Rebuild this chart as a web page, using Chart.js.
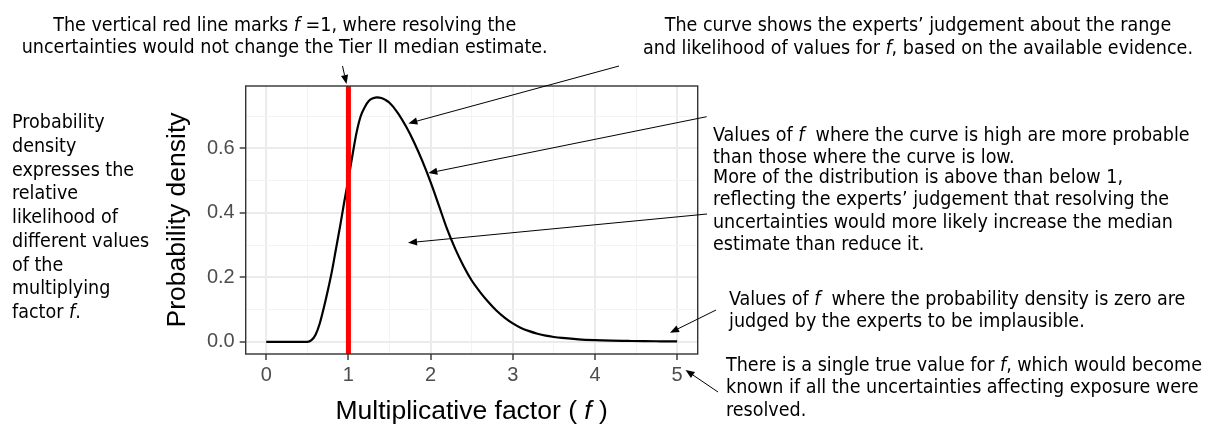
<!DOCTYPE html>
<html>
<head>
<meta charset="utf-8">
<script src="https://cdn.jsdelivr.net/npm/chart.js@4.4.1/dist/chart.umd.min.js"></script>
<style>
  html, body { margin: 0; padding: 0; background: #fff; }
  #wrap { position: relative; width: 1211px; height: 428px; overflow: hidden; }
  #wrap canvas { position: absolute; left: 0; top: 0; }
  .note {
    position: absolute;
    font-family: "DejaVu Sans Condensed", "DejaVu Sans", sans-serif;
    font-stretch: semi-condensed;
    font-size: 19.5px;
    line-height: 22.5px;
    color: #000;
    white-space: nowrap;
  }
  .mid { transform: translateX(-50%); text-align: center; }
  .xtitle {
    position: absolute;
    left: 471.7px;
    top: 395px;
    transform: translateX(-50%);
    font-family: "Liberation Sans", Arial, sans-serif;
    font-size: 26.5px;
    line-height: 30px;
    white-space: nowrap;
  }
</style>
</head>
<body>
<div id="wrap">
  <canvas id="densityChart" width="1211" height="428"></canvas>

  <div class="note mid" style="left:284.7px; top:13.5px;">The vertical red line marks <i>f</i> =1, where resolving the<br>uncertainties would not change the Tier II median estimate.</div>
  <div class="note mid" style="left:918px; top:14px;">The curve shows the experts’ judgement about the range<br>and likelihood of values for <i>f</i>, based on the available evidence.</div>
  <div class="note" style="left:713px; top:124px; line-height:22px;">Values of <i>f</i>&nbsp; where the curve is high are more probable<br>than those where the curve is low.</div>
  <div class="note" style="left:713px; top:166px; line-height:22.4px;">More of the distribution is above than below 1,<br>reflecting the experts’ judgement that resolving the<br>uncertainties would more likely increase the median<br>estimate than reduce it.</div>
  <div class="note" style="left:729px; top:288px; line-height:22px;">Values of <i>f</i>&nbsp; where the probability density is zero are<br>judged by the experts to be implausible.</div>
  <div class="note" style="left:726px; top:354px; line-height:22.4px;">There is a single true value for <i>f</i>, which would become<br>known if all the uncertainties affecting exposure were<br>resolved.</div>
  <div class="note" style="left:12px; top:110px; line-height:23.75px;">Probability<br>density<br>expresses the<br>relative<br>likelihood of<br>different values<br>of the<br>multiplying<br>factor <i>f</i>.</div>

  <div class="xtitle">Multiplicative factor ( <i>f</i> )</div>
</div>

<script>
// density curve
const fValues = [0, 0.5, 0.55, 0.6, 0.65, 0.7, 0.75, 0.8, 0.85, 0.9, 0.95, 1.0, 1.05, 1.1, 1.15, 1.2, 1.25, 1.3, 1.35, 1.4, 1.45, 1.5, 1.6, 1.7, 1.8, 1.9, 2.0, 2.1, 2.2, 2.3, 2.4, 2.5, 2.6, 2.7, 2.8, 2.9, 3.0, 3.1, 3.2, 3.3, 3.4, 3.5, 3.6, 3.8, 4.0, 4.2, 4.4, 4.6, 4.8, 5.0];
const density = [0, 0, 0.005, 0.022, 0.056, 0.105, 0.16, 0.22, 0.29, 0.36, 0.435, 0.505, 0.58, 0.65, 0.70, 0.728, 0.747, 0.755, 0.758, 0.756, 0.75, 0.741, 0.71, 0.668, 0.618, 0.56, 0.495, 0.423, 0.35, 0.288, 0.235, 0.19, 0.155, 0.124, 0.097, 0.075, 0.057, 0.043, 0.033, 0.025, 0.019, 0.015, 0.012, 0.0075, 0.005, 0.0035, 0.0027, 0.002, 0.0016, 0.0013];

// vertical reference line at f = 1
const markerF = 1;

// axes (ggplot style: major ticks labelled, minor grid in between)
const xMajor = [0, 1, 2, 3, 4, 5];
const xMinor = [0.5, 1.5, 2.5, 3.5, 4.5];
const yMajor = [0, 0.2, 0.4, 0.6];
const yMinor = [0.1, 0.3, 0.5, 0.7];
const xRange = [-0.25, 5.25];
const yRange = [-0.0378, 0.793];

// annotation arrows: tail in page pixels, head in data units (or pixels)
const arrows = [
  { tail: [342.5, 66], headPx: [346.5, 84] },
  { tail: [619, 66], head: [1.729, 0.677] },
  { tail: [706.7, 116.7], head: [1.972, 0.523] },
  { tail: [707, 214], head: [1.725, 0.307] },
  { tail: [716, 310], head: [4.913, 0.028] },
  { tail: [718, 392], headPx: [685.5, 370] }
];

const plotLeft = 245.7, plotRight = 697.7, plotTop = 86, plotBottom = 354;
const W = 1211, H = 428;
const padLeft = 160;

const isMajor = (list, v) => list.some(m => Math.abs(m - v) < 1e-6);

const panelBorder = {
  id: 'panelBorder',
  afterDatasetsDraw(chart) {
    const a = chart.chartArea;
    const c = chart.ctx;
    c.save();
    c.strokeStyle = '#333333';
    c.lineWidth = 1.4;
    c.strokeRect(a.left, a.top, a.right - a.left, a.bottom - a.top);
    c.restore();
  }
};

const arrowNotes = {
  id: 'arrowNotes',
  afterDraw(chart) {
    const c = chart.ctx;
    const xs = chart.scales.x, ys = chart.scales.y;
    c.save();
    c.strokeStyle = '#000';
    c.fillStyle = '#000';
    c.lineWidth = 1;
    arrows.forEach(ar => {
      const hx = ar.head ? xs.getPixelForValue(ar.head[0]) : ar.headPx[0];
      const hy = ar.head ? ys.getPixelForValue(ar.head[1]) : ar.headPx[1];
      const tx = ar.tail[0], ty = ar.tail[1];
      const ang = Math.atan2(hy - ty, hx - tx);
      const len = 9, half = 3.6;
      const bx = hx - len * Math.cos(ang), by = hy - len * Math.sin(ang);
      c.beginPath();
      c.moveTo(tx, ty);
      c.lineTo(bx, by);
      c.stroke();
      c.beginPath();
      c.moveTo(hx, hy);
      c.lineTo(bx + half * Math.sin(ang), by - half * Math.cos(ang));
      c.lineTo(bx - half * Math.sin(ang), by + half * Math.cos(ang));
      c.closePath();
      c.fill();
    });
    c.restore();
  }
};

const ctx = document.getElementById('densityChart').getContext('2d');

new Chart(ctx, {
  type: 'line',
  data: {
    datasets: [
      {
        label: 'f = 1',
        data: [{ x: markerF, y: yRange[0] }, { x: markerF, y: yRange[1] }],
        borderColor: '#FF0000',
        borderWidth: 5,
        pointRadius: 0,
        order: 0
      },
      {
        label: 'Density',
        data: fValues.map((f, i) => ({ x: f, y: density[i] })),
        borderColor: '#000000',
        borderWidth: 2.2,
        pointRadius: 0,
        cubicInterpolationMode: 'monotone',
        order: 1
      }
    ]
  },
  options: {
    responsive: false,
    animation: false,
    events: [],
    layout: {
      padding: { left: padLeft, right: W - plotRight, top: plotTop, bottom: 0 }
    },
    plugins: {
      legend: { display: false },
      tooltip: { enabled: false }
    },
    scales: {
      x: {
        type: 'linear',
        min: xRange[0],
        max: xRange[1],
        afterBuildTicks(scale) {
          scale.ticks = xMajor.concat(xMinor).sort((a, b) => a - b).map(v => ({ value: v }));
        },
        afterFit(scale) { scale.height = H - plotBottom; },
        border: { display: false },
        grid: {
          color: c => isMajor(xMajor, c.tick.value) ? '#EBEBEB' : '#F3F3F3',
          lineWidth: c => isMajor(xMajor, c.tick.value) ? 2 : 1,
          tickColor: c => isMajor(xMajor, c.tick.value) ? '#333333' : 'rgba(0,0,0,0)',
          tickWidth: 1.4,
          tickLength: 6
        },
        ticks: {
          autoSkip: false,
          maxRotation: 0,
          padding: 3,
          color: '#4D4D4D',
          font: { family: 'Liberation Sans', size: 20 },
          callback: v => isMajor(xMajor, v) ? String(v) : ''
        }
      },
      y: {
        type: 'linear',
        min: yRange[0],
        max: yRange[1],
        afterBuildTicks(scale) {
          scale.ticks = yMajor.concat(yMinor).sort((a, b) => a - b).map(v => ({ value: v }));
        },
        afterFit(scale) { scale.width = plotLeft - padLeft; },
        border: { display: false },
        grid: {
          color: c => isMajor(yMajor, c.tick.value) ? '#EBEBEB' : '#F3F3F3',
          lineWidth: c => isMajor(yMajor, c.tick.value) ? 2 : 1,
          tickColor: c => isMajor(yMajor, c.tick.value) ? '#333333' : 'rgba(0,0,0,0)',
          tickWidth: 1.4,
          tickLength: 6
        },
        ticks: {
          autoSkip: false,
          padding: 5,
          color: '#4D4D4D',
          font: { family: 'Liberation Sans', size: 20 },
          callback: v => isMajor(yMajor, v) ? v.toFixed(1) : ''
        },
        title: {
          display: true,
          text: 'Probability density',
          color: '#000000',
          font: { family: 'Liberation Sans', size: 26.5 },
          padding: { top: 2, bottom: 0 }
        }
      }
    }
  },
  plugins: [panelBorder, arrowNotes]
});
</script>
</body>
</html>
